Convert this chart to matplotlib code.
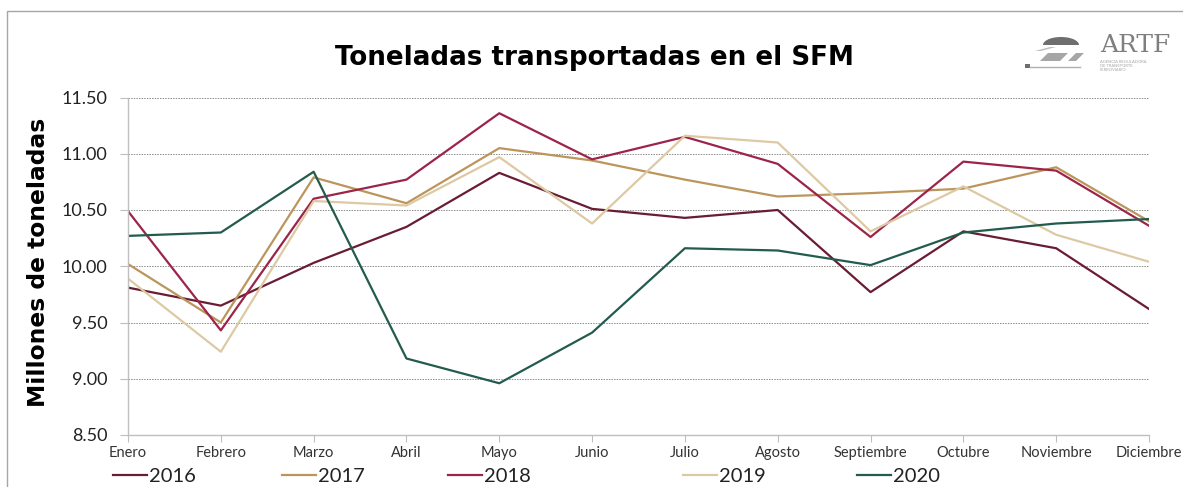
import numpy as np
import matplotlib
matplotlib.use("Agg")
import matplotlib.pyplot as plt
from matplotlib.patches import Rectangle, Polygon
from matplotlib.lines import Line2D
from matplotlib.transforms import Affine2D

months = ["Enero", "Febrero", "Marzo", "Abril", "Mayo", "Junio", "Julio",
          "Agosto", "Septiembre", "Octubre", "Noviembre", "Diciembre"]
y2016 = [9.81, 9.65, 10.03, 10.35, 10.83, 10.51, 10.43, 10.50, 9.77, 10.31, 10.16, 9.62]
y2017 = [10.02, 9.50, 10.79, 10.56, 11.05, 10.94, 10.77, 10.62, 10.65, 10.69, 10.88, 10.40]
y2018 = [10.49, 9.43, 10.60, 10.77, 11.36, 10.95, 11.15, 10.91, 10.26, 10.93, 10.85, 10.36]
y2019 = [9.89, 9.24, 10.58, 10.54, 10.97, 10.38, 11.16, 11.10, 10.31, 10.71, 10.28, 10.04]
y2020 = [10.27, 10.30, 10.84, 9.18, 8.96, 9.41, 10.16, 10.14, 10.01, 10.30, 10.38, 10.42]
years = ["2016", "2017", "2018", "2019", "2020"]
series = [y2016, y2017, y2018, y2019, y2020]
colors = ["#691C32", "#BC955C", "#9D2449", "#DDC9A3", "#235B4E"]
yticks = [8.50, 9.00, 9.50, 10.00, 10.50, 11.00, 11.50]

plt.rcParams['font.family'] = ['Lato', 'DejaVu Sans']

W, H = 1183, 487
fig = plt.figure(figsize=(W / 100, H / 100), dpi=100)
# pixel transform: x from left, y from top
px = Affine2D().scale(1 / W, -1 / H).translate(0, 1) + fig.transFigure

ax = fig.add_axes([128 / W, 1 - 435 / H, (1149 - 128) / W, (435 - 97.5) / H])

x = list(range(len(months)))
lines = []
for yr, vals, c in zip(years, series, colors):
    ln, = ax.plot(x, vals, color=c, lw=1.6, label=yr)
    lines.append(ln)

ax.set_xlim(0, len(months) - 1)
ax.set_ylim(8.5, 11.5)
ax.set_yticks(yticks)
ax.set_yticklabels([f"{v:.2f}" for v in yticks])
ax.set_xticks(x)
ax.set_xticklabels(months)
ax.tick_params(axis='y', labelsize=13, length=6, color='#BFBFBF', pad=9, labelcolor='#222222')
ax.tick_params(axis='x', labelsize=10.5, length=5, color='#BFBFBF', pad=3, labelcolor='#333333')
ax.grid(axis='y', color='#8C8C8C', lw=0.7, linestyle=(0, (1.5, 1.2)))
ax.set_axisbelow(True)
for s in ['top', 'right']:
    ax.spines[s].set_visible(False)
for s in ['left', 'bottom']:
    ax.spines[s].set_color('#BFBFBF')
    ax.spines[s].set_linewidth(1.0)

ax.set_ylabel("Millones de toneladas", fontsize=16.8, fontweight='bold',
              family=['DejaVu Sans'])
ax.yaxis.set_label_coords((50 - 128) / (1149 - 128), (435 - 262) / (435 - 97.5))

fig.text(594 / W, 1 - 58 / H, "Toneladas transportadas en el SFM", ha='center', va='center',
         fontsize=18.8, fontweight='bold', color='black', family=['DejaVu Sans'])

# logo (decorative)
t = np.linspace(np.pi, 2 * np.pi, 30)
dome = list(zip(1061 + 18 * np.cos(t), 45 + 8 * np.sin(t)))
fig.patches.append(Polygon(dome, closed=True, transform=px, color='#6E6E6E', lw=0))
fig.patches.append(Polygon([(1035, 51), (1050, 47), (1056, 47), (1041, 51)], closed=True,
                           transform=px, color='#BFBFBF', lw=0))
fig.patches.append(Polygon([(1040, 61), (1048, 53), (1068, 53), (1060, 61)], closed=True,
                           transform=px, color='#A6A6A6', lw=0))
fig.patches.append(Polygon([(1068, 61), (1076, 53), (1084, 53), (1076, 61)], closed=True,
                           transform=px, color='#A6A6A6', lw=0))
fig.patches.append(Rectangle((1025, 64), 5, 4, transform=px, color='#6E6E6E', lw=0))
fig.lines.append(Line2D([1030, 1080], [67, 67], transform=px, color='#B0B0B0', lw=1))
fig.text(1100 / W, 1 - 46 / H, "ARTF", ha='left', va='center', fontsize=18,
         family='DejaVu Serif', color='#7F7F7F')
fig.text(1100 / W, 1 - 66 / H, "AGENCIA REGULADORA\nDE TRANSPORTE\nFERROVIARIO", ha='left',
         va='center', fontsize=3, color='#A6A6A6', linespacing=1.1)

# legend entries placed individually
leg_x = [113, 282, 448, 683, 857]
for ln, yr, lx in zip(lines, years, leg_x):
    lg = fig.legend(handles=[ln], labels=[yr], loc='center left',
                    bbox_to_anchor=(lx / W, 1 - 476 / H), frameon=False, fontsize=14.5,
                    handlelength=1.7, handletextpad=0.1, borderpad=0, borderaxespad=0)
    for tx in lg.get_texts():
        tx.set_color('#222222')

fig.patches.append(Rectangle((7 / W, -0.1), 1.2, 1.1 - 11 / H, transform=fig.transFigure,
                             fill=False, edgecolor='#A6A6A6', lw=1.0))

fig.savefig("out.png", dpi=100)
